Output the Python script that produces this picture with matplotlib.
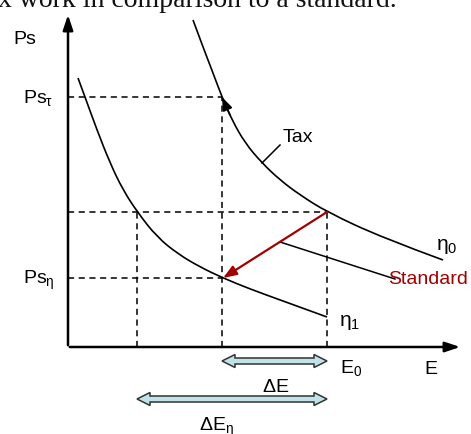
import matplotlib.pyplot as plt
from matplotlib.patches import Polygon, PathPatch
from matplotlib.path import Path

plt.rcParams['font.family'] = ['Liberation Sans', 'DejaVu Sans']
plt.rcParams['mathtext.fontset'] = 'custom'
plt.rcParams['mathtext.rm'] = 'Liberation Sans'
plt.rcParams['mathtext.it'] = 'Liberation Sans'

# curve points (E, Ps)
eta0_E = [125, 135, 145, 154, 164, 177, 194, 212, 232, 259, 315, 375]
eta0_Ps = [327, 300, 274, 250, 227, 204, 184, 167, 152, 135, 109, 87]
eta1_E = [10, 17, 29, 42, 55, 70, 89, 110, 132, 155, 182, 215, 259]
eta1_Ps = [269, 250, 217, 184, 157, 134, 110, 93, 80, 69, 58, 46, 30]

# key levels
E_n, E_tax, E_0 = 69, 154, 259
Ps_tau, Ps_0, Ps_eta = 250, 135, 69
E_max, Ps_max = 395, 335

RED = '#a30000'
BLUE = '#bfe3e8'

fig = plt.figure(figsize=(4.71, 4.34), dpi=100)
ax = fig.add_axes([0, 0, 1, 1])
ax.set_xlim(-68, 403)
ax.set_ylim(-87, 347)
ax.axis('off')


def smooth_curve(xs, ys):
    # quadratic bezier through the midpoints, points act as control points
    pts = list(zip(xs, ys))
    verts, codes = [pts[0]], [Path.MOVETO]
    for i in range(1, len(pts) - 1):
        if i == len(pts) - 2:
            end = pts[-1]
        else:
            end = ((pts[i][0] + pts[i + 1][0]) / 2, (pts[i][1] + pts[i + 1][1]) / 2)
        verts += [pts[i], end]
        codes += [Path.CURVE3, Path.CURVE3]
    ax.add_patch(PathPatch(Path(verts, codes), fill=False, edgecolor='black', lw=1.2))


def double_arrow(x0, x1, y, shaft=3.0, head=6.5, head_len=13):
    pts = [(x0, y), (x0 + head_len, y + head), (x0 + head_len, y + shaft),
           (x1 - head_len, y + shaft), (x1 - head_len, y + head), (x1, y),
           (x1 - head_len, y - head), (x1 - head_len, y - shaft),
           (x0 + head_len, y - shaft), (x0 + head_len, y - head)]
    ax.add_patch(Polygon(pts, closed=True, facecolor=BLUE, edgecolor='#333333',
                         lw=1.1, joinstyle='miter'))


# cropped caption at the very top
ax.text(329, 340, 'x work in comparison to a standard.', family='Liberation Serif',
        fontsize=20, ha='right', va='baseline', color='#111111')

# axes with arrows
ax.annotate('', xy=(0, Ps_max), xytext=(0, -1),
            arrowprops=dict(arrowstyle='-|>,head_length=0.9,head_width=0.3', lw=1.8, color='black'))
ax.annotate('', xy=(E_max, 0), xytext=(-1, 0),
            arrowprops=dict(arrowstyle='-|>,head_length=0.9,head_width=0.3', lw=1.8, color='black'))

# curves
smooth_curve(eta0_E, eta0_Ps)
smooth_curve(eta1_E, eta1_Ps)

# dashed guides
dash = dict(color='black', lw=1.1, ls=(0, (4, 3)))
ax.plot([0, E_tax], [Ps_tau, Ps_tau], **dash)
ax.plot([0, E_0], [Ps_0, Ps_0], **dash)
ax.plot([0, E_tax], [Ps_eta, Ps_eta], **dash)
ax.plot([E_n, E_n], [0, Ps_0], **dash)
ax.plot([E_tax, E_tax], [0, Ps_tau], **dash)
ax.plot([E_0, E_0], [0, Ps_0], **dash)

# tax arrow head on the upper curve
ax.annotate('', xy=(E_tax, Ps_tau), xytext=(162, 232),
            arrowprops=dict(arrowstyle='-|>,head_length=0.8,head_width=0.3', lw=1.2,
                            color='black', shrinkA=0, shrinkB=0))

# standard arrow
ax.annotate('', xy=(E_tax + 1, Ps_eta), xytext=(E_0, Ps_0),
            arrowprops=dict(arrowstyle='-|>,head_length=0.8,head_width=0.3', lw=1.6,
                            color=RED, shrinkA=0, shrinkB=0))

# leader lines
ax.plot([212, 194], [202, 184], color='black', lw=1.1)
ax.plot([212, 327], [105, 68], color='black', lw=1.1)

# labels
ax.text(-55, 308, 'Ps', fontsize=14, va='center')
ax.text(-45, 249, r'Ps$_{\tau}$', fontsize=14, va='center')
ax.text(-45, 67, r'Ps$_{\eta}$', fontsize=14, va='center')
ax.text(215, 209, 'Tax', fontsize=14, va='center')
ax.text(320, 68, 'Standard', fontsize=14, va='center', color=RED)
ax.text(368, 100, r'$\eta_0$', fontsize=15, va='center')
ax.text(271, 25, r'$\eta_1$', fontsize=15, va='center')
ax.text(272, -21, r'E$_0$', fontsize=14, va='center')
ax.text(356, -23, 'E', fontsize=14, va='center')
ax.text(208, -40, r'$\Delta$E', fontsize=14, ha='center', va='center')
ax.text(148, -80, r'$\Delta$E$_{\eta}$', fontsize=14, ha='center', va='center')

# double arrows for the E shifts
double_arrow(E_tax, E_0, -14)
double_arrow(E_n, E_0, -52)

fig.savefig('out.png', dpi=100)
